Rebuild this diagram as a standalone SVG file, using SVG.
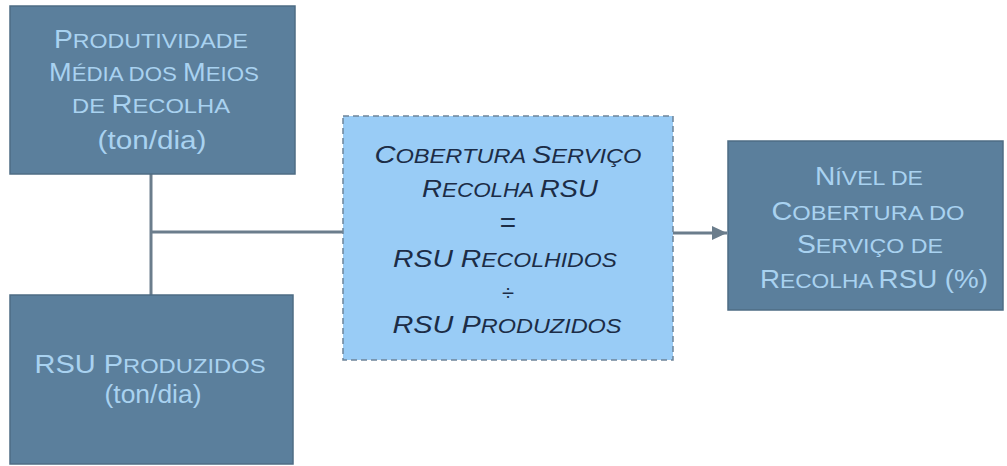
<svg xmlns="http://www.w3.org/2000/svg" width="1007" height="466" viewBox="0 0 1007 466">
<defs>
<style>
.box{fill:#5b7f9c;stroke:#4e6c84;stroke-width:1.5}
.lt{fill:#a9d2f0;font-family:"Liberation Sans",Arial,sans-serif;font-size:20.5px;text-anchor:middle}
.lt .c{font-size:25px}
.lt.n{font-size:26px}
.calc{fill:#99ccf6;stroke:#6d8499;stroke-width:1.5;stroke-dasharray:6 4}
.dt{fill:#1c2c46;font-family:"Liberation Sans",Arial,sans-serif;font-style:italic;font-size:19.5px;text-anchor:middle}
.dt .c{font-size:24px}
.op{fill:#1c2c46;font-family:"Liberation Sans",Arial,sans-serif;text-anchor:middle}
.ln{stroke:#6b7d8c;stroke-width:3;fill:none}
</style>
<marker id="ah" markerWidth="16" markerHeight="14" refX="15" refY="7" orient="auto" markerUnits="userSpaceOnUse">
<path d="M0,0 L15,7 L0,14 Z" fill="#6b7d8c"/>
</marker>
</defs>
<rect width="1007" height="466" fill="#ffffff"/>
<g id="connectors">
<line class="ln" x1="151" y1="174" x2="151" y2="295"/>
<line class="ln" x1="151" y1="232" x2="343" y2="232"/>
<line class="ln" x1="673" y1="233" x2="727" y2="233" marker-end="url(#ah)"/>
</g>
<g id="produtividade">
<rect class="box" x="10" y="6" width="285" height="168"/>
<text class="lt" x="151" y="48" textLength="194" lengthAdjust="spacingAndGlyphs"><tspan class="c">P</tspan>RODUTIVIDADE</text>
<text class="lt" x="154" y="81" textLength="210" lengthAdjust="spacingAndGlyphs"><tspan class="c">M</tspan>ÉDIA DOS <tspan class="c">M</tspan>EIOS</text>
<text class="lt" x="151" y="113" textLength="158" lengthAdjust="spacingAndGlyphs">DE <tspan class="c">R</tspan>ECOLHA</text>
<text class="lt n" x="152" y="149" textLength="109" lengthAdjust="spacingAndGlyphs">(ton/dia)</text>
</g>
<g id="rsu-produzidos">
<rect class="box" x="10" y="295" width="283" height="169"/>
<text class="lt" x="150" y="373" textLength="231" lengthAdjust="spacingAndGlyphs"><tspan class="c">RSU P</tspan>RODUZIDOS</text>
<text class="lt n" x="153" y="403" textLength="97" lengthAdjust="spacingAndGlyphs">(ton/dia)</text>
</g>
<g id="calculo">
<rect class="calc" x="343" y="116" width="330" height="244"/>
<text class="dt" x="508" y="163" textLength="267" lengthAdjust="spacingAndGlyphs"><tspan class="c">C</tspan>OBERTURA <tspan class="c">S</tspan>ERVIÇO</text>
<text class="dt" x="510" y="197" textLength="176" lengthAdjust="spacingAndGlyphs"><tspan class="c">R</tspan>ECOLHA <tspan class="c">RSU</tspan></text>
<text class="op" x="508" y="232" font-size="28">=</text>
<text class="dt" x="505" y="267" textLength="224" lengthAdjust="spacingAndGlyphs"><tspan class="c">RSU R</tspan>ECOLHIDOS</text>
<text class="op" x="508" y="300" font-size="22">÷</text>
<text class="dt" x="507" y="333" textLength="229" lengthAdjust="spacingAndGlyphs"><tspan class="c">RSU P</tspan>RODUZIDOS</text>
</g>
<g id="nivel-cobertura">
<rect class="box" x="728" y="141" width="275" height="169"/>
<text class="lt" x="869" y="185" textLength="108" lengthAdjust="spacingAndGlyphs"><tspan class="c">N</tspan>ÍVEL DE</text>
<text class="lt" x="868" y="220" textLength="193" lengthAdjust="spacingAndGlyphs"><tspan class="c">C</tspan>OBERTURA DO</text>
<text class="lt" x="870" y="253" textLength="146" lengthAdjust="spacingAndGlyphs"><tspan class="c">S</tspan>ERVIÇO DE</text>
<text class="lt" x="874" y="288" textLength="228" lengthAdjust="spacingAndGlyphs"><tspan class="c">R</tspan>ECOLHA <tspan class="c">RSU (%)</tspan></text>
</g>
</svg>
